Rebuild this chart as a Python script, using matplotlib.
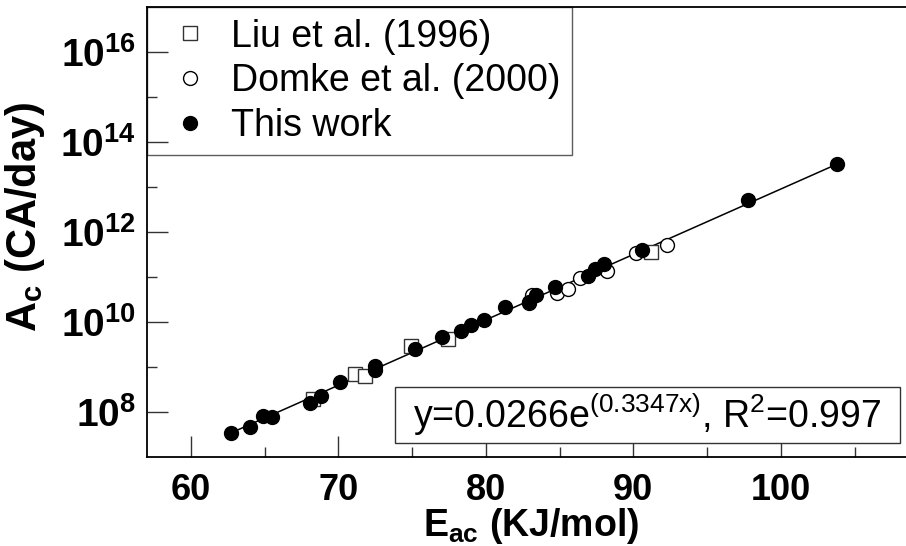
import matplotlib
matplotlib.use("Agg")
import matplotlib.pyplot as plt
from matplotlib.patches import Rectangle
import numpy as np

plt.rcParams['font.family'] = ['Liberation Sans', 'DejaVu Sans']
plt.rcParams['mathtext.default'] = 'regular'

# Liu et al. (1996)
liu_E = [68.3, 71.1, 71.8, 74.9, 77.4, 91.2]
liu_A = [2.0e8, 7.1e8, 6.5e8, 3.0e9, 4.3e9, 3.6e11]

# Domke et al. (2000)
domke_E = [82.9, 83.1, 84.8, 85.6, 86.4, 88.2, 90.2, 92.3]
domke_A = [2.7e10, 4.0e10, 4.4e10, 5.4e10, 9.8e10, 1.41e11, 3.5e11, 5.2e11]

# this work
work_E = [62.7, 64.0, 64.9, 65.5, 68.1, 68.8, 70.1, 72.5, 72.5, 75.2, 77.0, 78.3,
          79.0, 79.9, 81.3, 82.9, 83.4, 84.7, 86.9, 87.4, 88.0, 90.6, 97.8, 103.8]
work_A = [3.4e7, 4.8e7, 8.1e7, 7.9e7, 1.62e8, 2.29e8, 4.8e8, 8.5e8, 1.05e9, 2.5e9,
          4.7e9, 6.5e9, 8.7e9, 1.10e10, 2.24e10, 2.8e10, 4.1e10, 6.2e10, 1.07e11,
          1.55e11, 2.0e11, 4.1e11, 5.2e12, 3.3e13]

# exponential fit A = a * exp(b * E)
fit_a = 0.0266
fit_b = 0.3347
fit_r2 = 0.997

fig = plt.figure(figsize=(9.06, 5.46), dpi=100)
# right edge of the frame runs past the canvas
ax = fig.add_axes([0.1619, 0.1625, 1.0246 - 0.1619, 0.8242])

e_fit = np.linspace(min(work_E), max(work_E), 200)
ax.plot(e_fit, fit_a * np.exp(fit_b * e_fit), color='black', lw=1.1, zorder=2)

ms = 10
ax.plot(liu_E, liu_A, ls='none', marker='s', ms=ms, mfc='white', mec='#333333',
        mew=1.0, label='Liu et al. (1996)', zorder=3)
ax.plot(domke_E, domke_A, ls='none', marker='o', ms=ms, mfc='white', mec='black',
        mew=1.0, label='Domke et al. (2000)', zorder=4)
ax.plot(work_E, work_A, ls='none', marker='o', ms=ms, mfc='black', mec='black',
        label='This work', zorder=5)

ax.set_yscale('log')
ax.set_xlim(57, 110)
ax.set_ylim(1e7, 1e17)

ax.set_xticks([60, 70, 80, 90, 100])
ax.set_xticks([65, 75, 85, 95, 105], minor=True)
ax.set_yticks([1e8, 1e10, 1e12, 1e14, 1e16])
ax.set_yticklabels([r'$10^{8}$', r'$10^{10}$', r'$10^{12}$', r'$10^{14}$', r'$10^{16}$'])
ax.set_yticks([1e9, 1e11, 1e13, 1e15], minor=True)
ax.yaxis.set_minor_formatter(plt.NullFormatter())

ax.tick_params(which='major', direction='in', length=15, width=1.0, color='#333333')
ax.tick_params(which='minor', direction='in', length=7.5, width=1.0, color='#333333')
ax.tick_params(axis='x', which='major', labelsize=26, pad=11)
ax.tick_params(axis='y', which='major', labelsize=28, pad=8)
for lab in ax.get_xticklabels() + ax.get_yticklabels():
    lab.set_fontweight('bold')

for side in ['left', 'bottom', 'top']:
    ax.spines[side].set_linewidth(1.3)
ax.spines['right'].set_visible(False)

ax.set_xlabel(r'E$_{ac}$ (KJ/mol)', fontsize=27, fontweight='bold')
ax.xaxis.set_label_coords(0.4917, -0.108)
ax.set_ylabel(r'A$_c$ (CA/day)', fontsize=30, fontweight='bold')
ax.yaxis.set_label_coords(-0.127, 0.534)

leg = ax.legend(loc='upper left', fontsize=27, frameon=True, fancybox=False,
                borderaxespad=0, borderpad=0.3, labelspacing=0.23, handlelength=1.7,
                handletextpad=0.25, markerscale=1.0)
leg.get_frame().set_edgecolor('#333333')
leg.get_frame().set_linewidth(1.0)
leg.set_zorder(1)

# frame around the fit equation
lo, hi = 10 ** 7.318, 10 ** 8.562
ax.add_patch(Rectangle((73.82, lo), 108.08 - 73.82, hi - lo, fc='white',
                       ec='#333333', lw=1.0, zorder=6))
ax.text(90.96, 10 ** 7.94, r'y=0.0266e$^{(0.3347x)}$, R$^2$=0.997',
        fontsize=27, ha='center', va='center', zorder=7)

fig.savefig('out.png', dpi=100)
